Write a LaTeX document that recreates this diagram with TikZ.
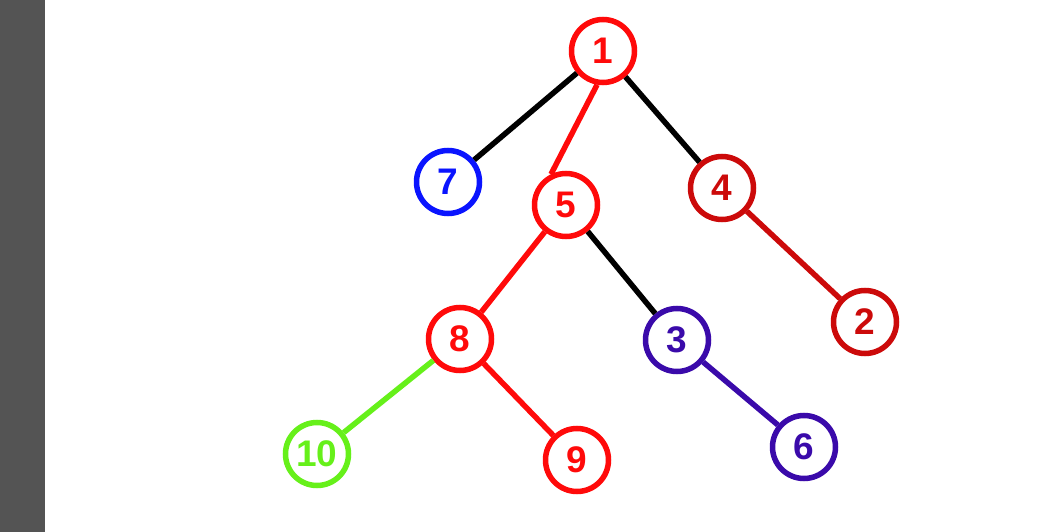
\documentclass[tikz,border=0pt]{standalone}
\usepackage{fontspec}
\setmainfont{Liberation Sans}
\definecolor{cred}{HTML}{FF0A0A}
\definecolor{dred}{HTML}{CC0A0A}
\definecolor{cblue}{HTML}{0A14FF}
\definecolor{indigo}{HTML}{3A0AAA}
\definecolor{cgreen}{HTML}{66F01A}
\definecolor{barg}{HTML}{545454}
\begin{document}
\begin{tikzpicture}[x=1pt,y=-1pt,
  vtx/.style={circle,draw=#1,text=#1,line width=5.5pt,minimum size=63pt,inner sep=0pt,font=\fontsize{37}{37}\selectfont\bfseries},
  edge/.style={draw=#1,line width=5.5pt}]
\fill[white] (0,0) rectangle (1061,532);
\useasboundingbox (0,0) rectangle (1061,532);
\fill[barg] (0,0) rectangle (45,532);
\node[vtx=cred] (n1) at (603,51) {1};
\node[vtx=cblue] (n7) at (448,182) {7};
\node[vtx=cred] (n5) at (566,205) {5};
\node[vtx=dred] (n4) at (722,188) {4};
\node[vtx=dred] (n2) at (865,322) {2};
\node[vtx=cred] (n8) at (460,339) {8};
\node[vtx=indigo] (n3) at (677,340) {3};
\node[vtx=cgreen] (n10) at (317,454) {10};
\node[vtx=cred] (n9) at (577,460) {9};
\node[vtx=indigo] (n6) at (804,447) {6};
\draw[edge=black] (n1) -- (n7);
\draw[edge=cred] (n1.-100) -- (n5.116);
\draw[edge=black] (n1) -- (n4);
\draw[edge=cred] (n5) -- (n8);
\draw[edge=black] (n5) -- (n3);
\draw[edge=dred] (n4) -- (n2);
\draw[edge=cgreen] (n8) -- (n10);
\draw[edge=cred] (n8) -- (n9);
\draw[edge=indigo] (n3) -- (n6);
\end{tikzpicture}
\end{document}
